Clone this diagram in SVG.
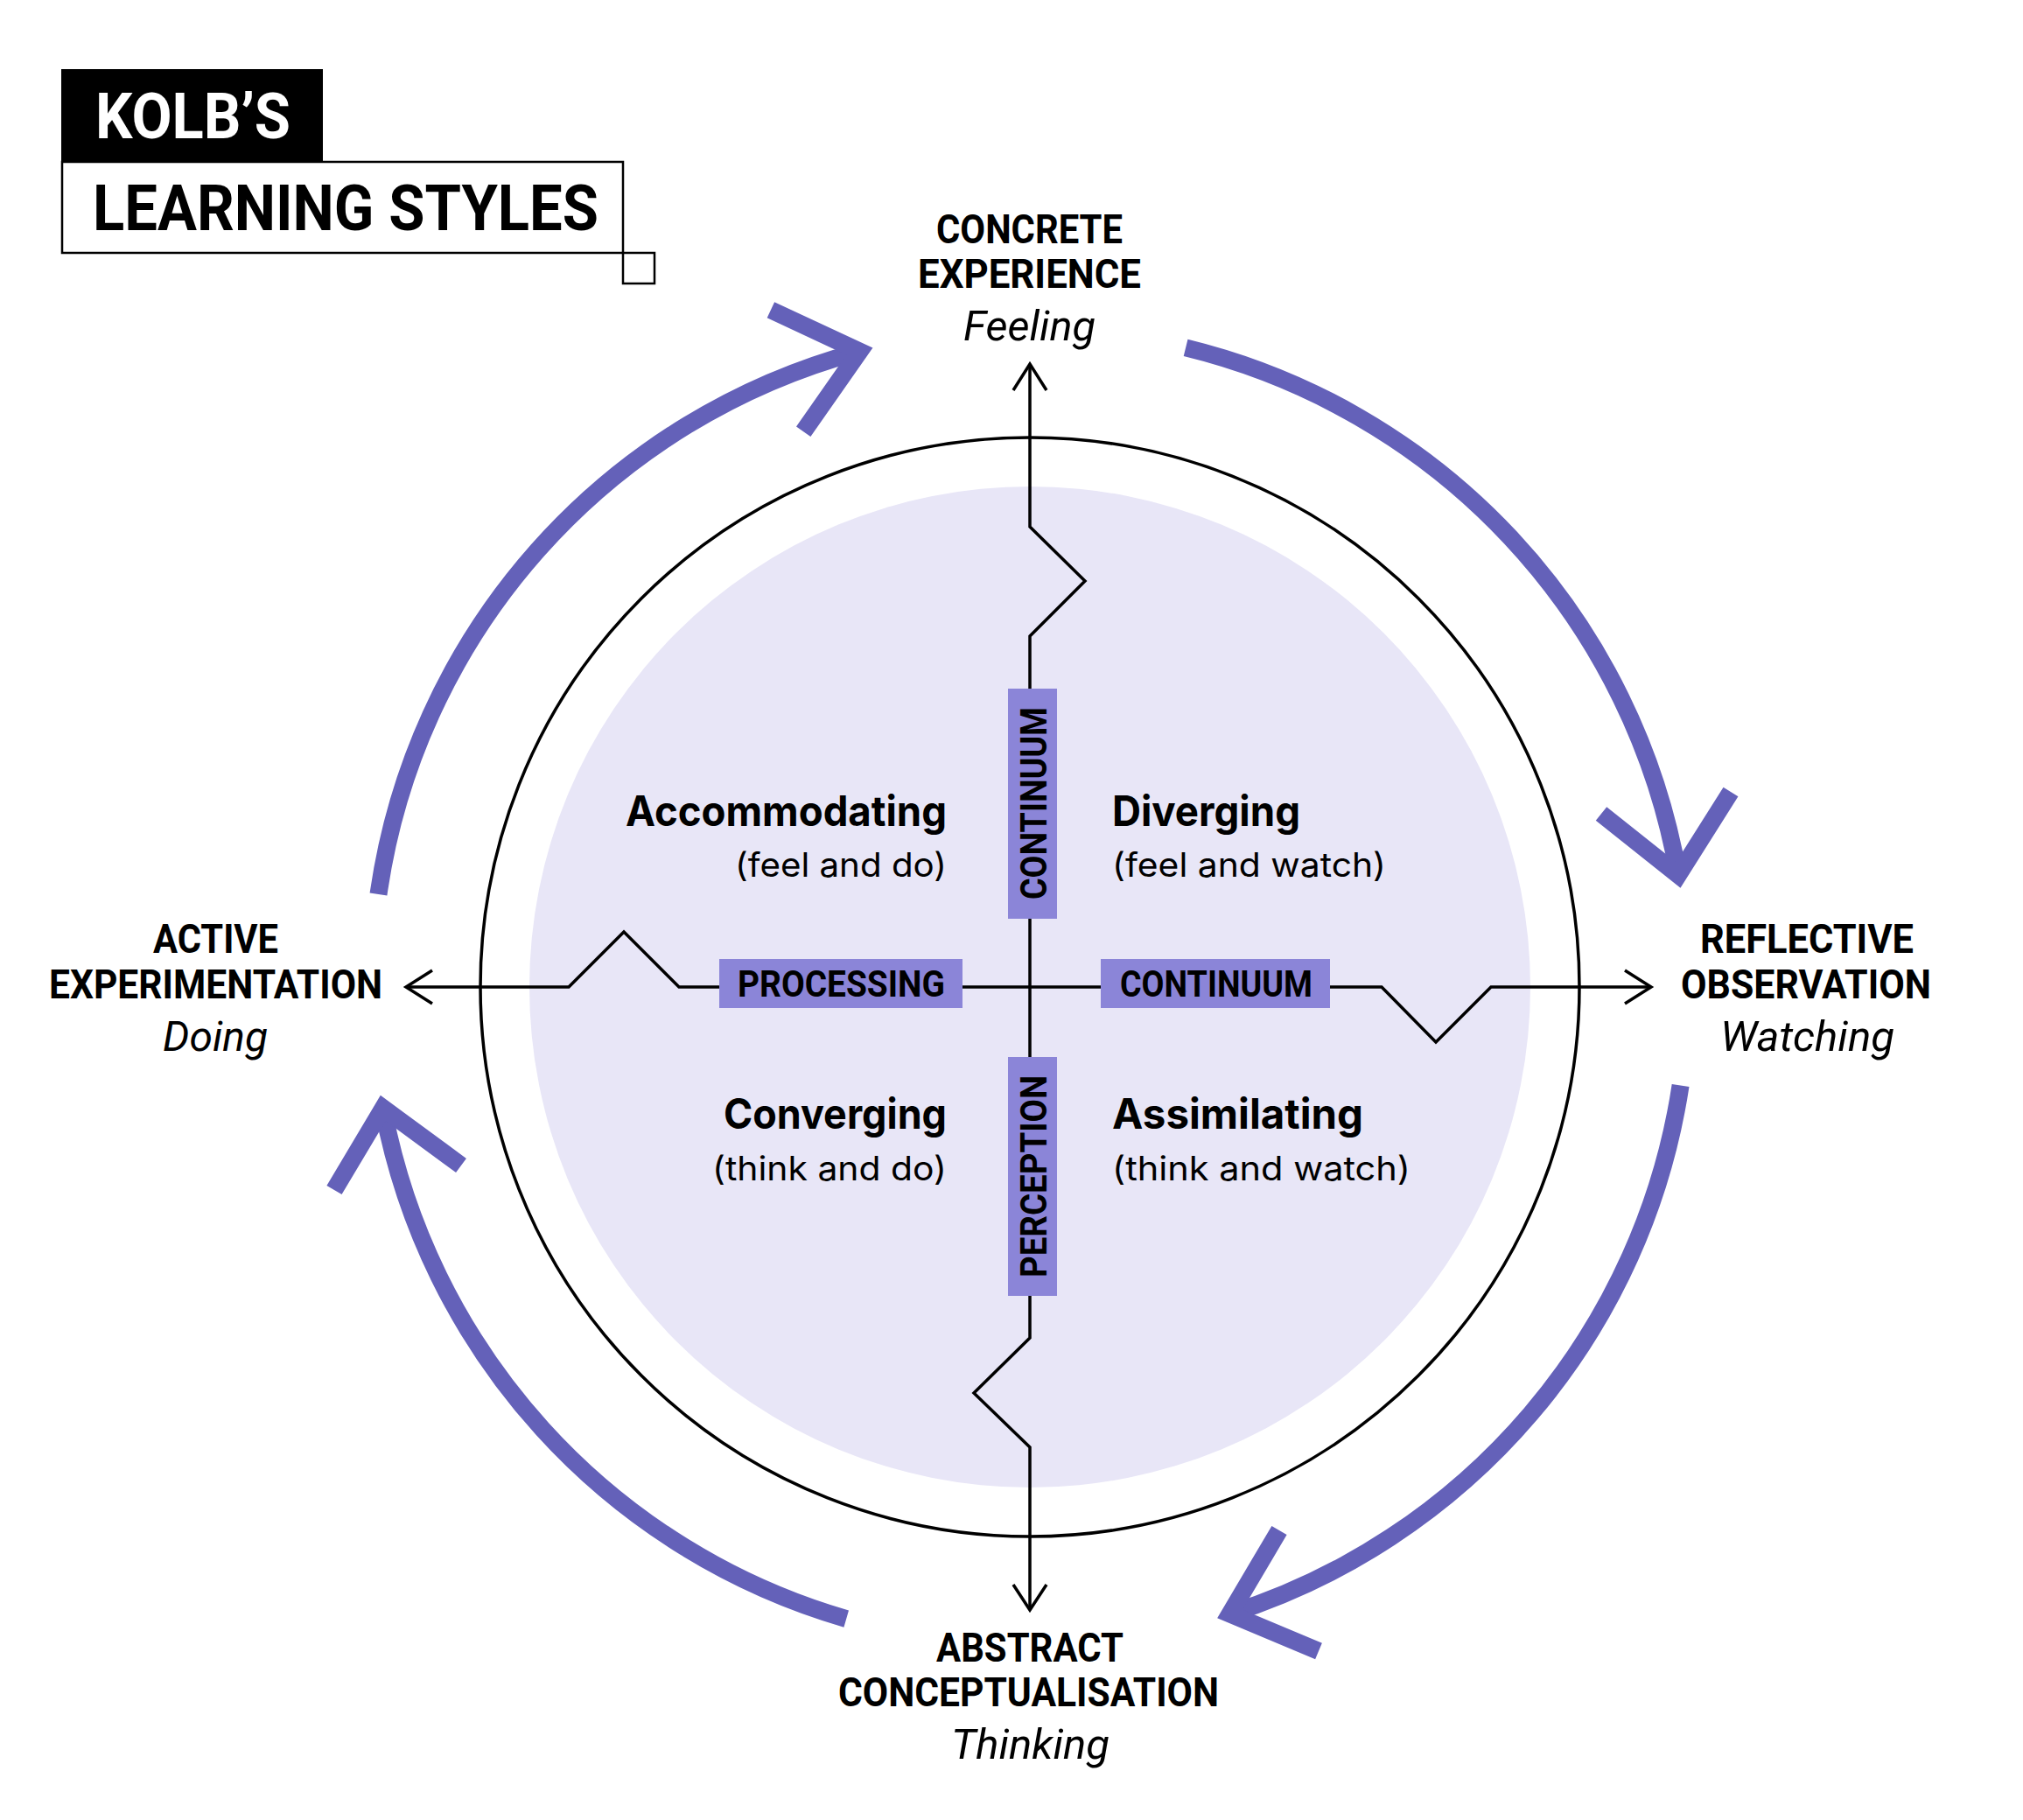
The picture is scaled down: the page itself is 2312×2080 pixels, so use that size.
<svg xmlns="http://www.w3.org/2000/svg" width="2312" height="2080" viewBox="0 0 2312 2080">
<style>
.cap{font-family:Roboto,"Liberation Sans",sans-serif;font-weight:700;font-size:46px;fill:#000}
.ital{font-family:Roboto,"Liberation Sans",sans-serif;font-style:italic;font-weight:400;font-size:48px;fill:#000}
.qname{font-family:Inter,"Noto Sans","Liberation Sans",sans-serif;font-weight:700;font-size:48px;fill:#000}
.qsub{font-family:Inter,"Noto Sans","Liberation Sans",sans-serif;font-weight:400;font-size:38px;fill:#000}
.tag{font-family:Roboto,"Liberation Sans",sans-serif;font-weight:700;font-size:42px;fill:#000}
.title{font-family:Roboto,"Liberation Sans",sans-serif;font-weight:700;font-size:72px}
.box{fill:#8B85D8}
.axis{fill:none;stroke:#000;stroke-width:3.5;stroke-linejoin:miter}
.cyc{fill:none;stroke:#6461B9;stroke-width:20;stroke-linecap:butt;stroke-linejoin:miter;stroke-miterlimit:10}
</style>
<rect width="2312" height="2080" fill="#fff"/>

<g id="title">
<rect x="70" y="79" width="299" height="106" fill="#000"/>
<text class="title" x="109" y="158" fill="#fff" textLength="223" lengthAdjust="spacingAndGlyphs">KOLB’S</text>
<rect x="71" y="185" width="641" height="104" fill="none" stroke="#000" stroke-width="2.5"/>
<text class="title" x="106" y="263" fill="#000" textLength="578" lengthAdjust="spacingAndGlyphs">LEARNING STYLES</text>
<rect x="712" y="289" width="36" height="35" fill="none" stroke="#000" stroke-width="2.5"/>
</g>

<g id="circle">
<circle cx="1177" cy="1128" r="572" fill="#E8E6F7"/>
<circle cx="1177" cy="1128" r="628" fill="none" stroke="#000" stroke-width="3.5"/>
</g>

<g id="connectors">
<path class="axis" d="M1177 787 L1177 727 L1240 664 L1177 602 L1177 417"/>
<polyline class="axis" points="1158,446 1177,416 1196,446"/>
<path class="axis" d="M1177 1050 L1177 1208"/>
<path class="axis" d="M1177 1481 L1177 1529 L1113 1592 L1177 1654 L1177 1839"/>
<polyline class="axis" points="1158,1811 1177,1840 1196,1811"/>
<path class="axis" d="M822 1128 L776 1128 L713 1065 L650 1128 L465 1128"/>
<polyline class="axis" points="494,1109 464,1128 494,1147"/>
<path class="axis" d="M1100 1128 L1258 1128"/>
<path class="axis" d="M1520 1128 L1579 1128 L1641 1191 L1704 1128 L1886 1128"/>
<polyline class="axis" points="1857,1109 1887,1128 1857,1147"/>

<path class="cyc" d="M432.5 1022 A752 752 0 0 1 982.4 401.6"/>
<polyline class="cyc" points="880.9,354.3 982.4,401.6 918.2,493.3"/>
<path class="cyc" d="M1355.1 397.4 A752 752 0 0 1 1918 1000"/>
<polyline class="cyc" points="1978,905 1918,1000 1830,930"/>
<path class="cyc" d="M1920.6 1240.4 A752 752 0 0 1 1405.6 1844.4"/>
<polyline class="cyc" points="1507,1887 1405.6,1844.4 1462,1749"/>
<path class="cyc" d="M967.2 1850.1 A752 752 0 0 1 437.8 1266.4"/>
<polyline class="cyc" points="382,1360 437.8,1266.4 527,1332"/>
</g>

<g id="tag-continuum-v">
<rect class="box" x="1152" y="787" width="56" height="263"/>
<text class="tag" transform="translate(1196 1028) rotate(-90)" x="0" y="0" textLength="220" lengthAdjust="spacingAndGlyphs">CONTINUUM</text>
</g>
<g id="tag-perception">
<rect class="box" x="1152" y="1208" width="56" height="273"/>
<text class="tag" transform="translate(1196 1460) rotate(-90)" x="0" y="0" textLength="231" lengthAdjust="spacingAndGlyphs">PERCEPTION</text>
</g>
<g id="tag-processing">
<rect class="box" x="822" y="1096" width="278" height="56"/>
<text class="tag" x="843" y="1139" textLength="237" lengthAdjust="spacingAndGlyphs">PROCESSING</text>
</g>
<g id="tag-continuum-h">
<rect class="box" x="1258" y="1096" width="262" height="56"/>
<text class="tag" x="1280" y="1139" textLength="220" lengthAdjust="spacingAndGlyphs">CONTINUUM</text>
</g>

<g id="concrete-experience">
<text class="cap" x="1070" y="278" textLength="213" lengthAdjust="spacingAndGlyphs">CONCRETE</text>
<text class="cap" x="1049" y="329" textLength="255" lengthAdjust="spacingAndGlyphs">EXPERIENCE</text>
<text class="ital" x="1101" y="389" textLength="151" lengthAdjust="spacingAndGlyphs">Feeling</text>
</g>
<g id="active-experimentation">
<text class="cap" x="175" y="1089" textLength="143" lengthAdjust="spacingAndGlyphs">ACTIVE</text>
<text class="cap" x="56" y="1141" textLength="381" lengthAdjust="spacingAndGlyphs">EXPERIMENTATION</text>
<text class="ital" x="186" y="1201" textLength="120" lengthAdjust="spacingAndGlyphs">Doing</text>
</g>
<g id="reflective-observation">
<text class="cap" x="1943" y="1089" textLength="244" lengthAdjust="spacingAndGlyphs">REFLECTIVE</text>
<text class="cap" x="1921" y="1141" textLength="286" lengthAdjust="spacingAndGlyphs">OBSERVATION</text>
<text class="ital" x="1966" y="1201" textLength="199" lengthAdjust="spacingAndGlyphs">Watching</text>
</g>
<g id="abstract-conceptualisation">
<text class="cap" x="1070" y="1899" textLength="214" lengthAdjust="spacingAndGlyphs">ABSTRACT</text>
<text class="cap" x="958" y="1950" textLength="435" lengthAdjust="spacingAndGlyphs">CONCEPTUALISATION</text>
<text class="ital" x="1087" y="2010" textLength="181" lengthAdjust="spacingAndGlyphs">Thinking</text>
</g>

<g id="accommodating">
<text class="qname" x="715" y="944" textLength="367" lengthAdjust="spacingAndGlyphs">Accommodating</text>
<text class="qsub" x="840" y="1002" textLength="242" lengthAdjust="spacingAndGlyphs">(feel and do)</text>
</g>
<g id="diverging">
<text class="qname" x="1271" y="944" textLength="215" lengthAdjust="spacingAndGlyphs">Diverging</text>
<text class="qsub" x="1271" y="1002" textLength="313" lengthAdjust="spacingAndGlyphs">(feel and watch)</text>
</g>
<g id="converging">
<text class="qname" x="827" y="1290" textLength="255" lengthAdjust="spacingAndGlyphs">Converging</text>
<text class="qsub" x="814" y="1349" textLength="268" lengthAdjust="spacingAndGlyphs">(think and do)</text>
</g>
<g id="assimilating">
<text class="qname" x="1271" y="1290" textLength="287" lengthAdjust="spacingAndGlyphs">Assimilating</text>
<text class="qsub" x="1271" y="1349" textLength="341" lengthAdjust="spacingAndGlyphs">(think and watch)</text>
</g>
</svg>
